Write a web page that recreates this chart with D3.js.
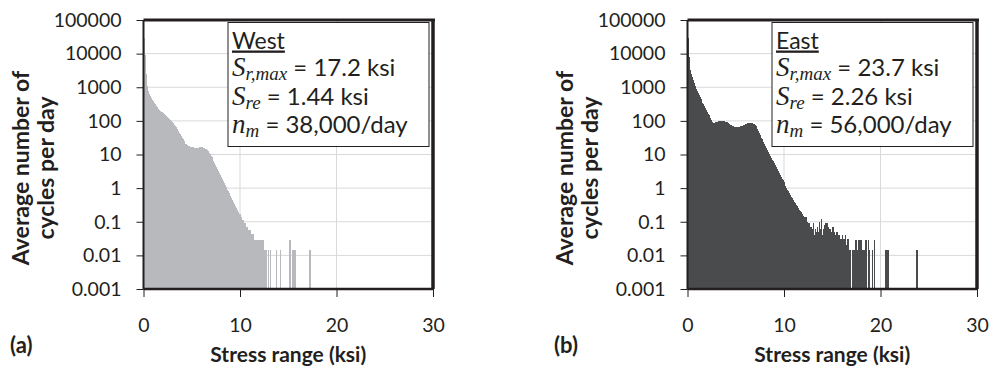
<!DOCTYPE html>
<html>
<head>
<meta charset="utf-8">
<script src="https://d3js.org/d3.v7.min.js"></script>
<style>
  body { margin: 0; background: #fff; }
  svg text { font-family: Lato, "Open Sans", sans-serif; fill: #231f20; }
</style>
</head>
<body>
<div id="chart"></div>
<script>
// histogram bins are 0.1 ksi wide, values are average cycles per day per bin
var binWidth = 0.1;

var westCounts = [
  30000, 9000, 2500, 1100, 800, 650, 550, 480, 420, 380,
  340, 310, 285, 260, 240, 225, 210, 200, 190, 180,
  170, 160, 150, 140, 130, 122, 115, 107, 100, 92,
  85, 78, 71, 64, 57, 51, 45, 40, 35, 31,
  28, 25, 23, 21, 20, 19, 18, 17.5, 17, 16.8,
  16.5, 16.3, 16, 15.8, 15.5, 15.5, 15.7, 16, 16.2, 16.3,
  16.2, 16, 15.6, 15, 14.3, 13.5, 12.5, 11.3, 10.2, 9.2,
  8.2, 7.2, 6.4, 5.6, 4.9, 4.3, 3.8, 3.3, 2.9, 2.5,
  2.2, 1.9, 1.65, 1.4, 1.2, 1.05, 0.9, 0.8, 0.7, 0.6,
  0.52, 0.45, 0.4, 0.34, 0.3, 0.26, 0.23, 0.2, 0.17, 0.17,
  0.14, 0.14, 0.11, 0.11, 0.09, 0.09, 0.07, 0.07, 0.057, 0.057,
  0.057, 0.043, 0.043, 0.043, 0.029, 0.029, 0.014, 0.029, 0.029, 0.029,
  0.014, 0.029, 0.014, 0.029, 0, 0.014, 0.014, 0, 0, 0.014,
  0, 0.014, 0, 0, 0, 0, 0, 0.014, 0, 0,
  0, 0.014, 0, 0, 0, 0, 0, 0, 0, 0,
  0, 0.029, 0, 0, 0.014, 0, 0.014, 0, 0, 0,
  0, 0, 0, 0, 0, 0, 0, 0, 0, 0,
  0, 0, 0.014
];

var eastCounts = [
  30000, 8000, 3200, 2500, 2000, 1600, 1300, 1100, 900, 780,
  680, 590, 510, 450, 400, 350, 310, 275, 245, 215,
  190, 165, 145, 125, 108, 95, 88, 86, 88, 90,
  92, 95, 97, 99, 100, 100, 99, 97, 95, 93,
  90, 87, 84, 81, 78, 75, 72, 70, 68, 67,
  66, 66, 67, 68, 69, 70, 72, 74, 76, 78,
  80, 82, 84, 85, 86, 86, 85, 83, 80, 76,
  70, 63, 56, 49, 43, 37, 32, 28, 24, 21,
  18, 16, 14, 12, 10.5, 9.2, 8, 7, 6.2, 5.5,
  4.8, 4.2, 3.7, 3.2, 2.8, 2.5, 2.2, 1.9, 1.7, 1.5,
  1.3, 1.15, 1.0, 0.9, 0.8, 0.7, 0.62, 0.55, 0.5, 0.44,
  0.4, 0.36, 0.32, 0.29, 0.26, 0.23, 0.21, 0.19, 0.17, 0.15,
  0.14, 0.13, 0.14, 0.1, 0.07, 0.09, 0.06, 0.07, 0.05, 0.06,
  0.09, 0.04, 0.06, 0.05, 0.07, 0.05, 0.1, 0.06, 0.12, 0.04,
  0.06, 0.08, 0.05, 0.09, 0.09, 0.07, 0.04, 0.06, 0.05, 0.04,
  0.07, 0.05, 0.03, 0.04, 0.05, 0.03, 0.04, 0.03, 0.03, 0.03,
  0.04, 0.03, 0.03, 0.04, 0.02, 0.03, 0.03, 0.014, 0.014, 0,
  0.014, 0.014, 0, 0.014, 0.029, 0.014, 0, 0.029, 0.014, 0.029,
  0.014, 0.014, 0, 0.014, 0.029, 0.014, 0, 0.029, 0.014, 0,
  0, 0.014, 0, 0.029, 0, 0, 0, 0, 0, 0,
  0, 0, 0, 0, 0, 0.014, 0, 0.014, 0, 0,
  0, 0, 0, 0, 0, 0, 0, 0, 0, 0,
  0, 0, 0, 0, 0, 0, 0, 0, 0, 0,
  0, 0, 0, 0, 0, 0, 0, 0.014
];

var xTicks = [0, 10, 20, 30];
var yTicks = [0.001, 0.01, 0.1, 1, 10, 100, 1000, 10000, 100000];
var yTickLabels = ["0.001", "0.01", "0.1", "1", "10", "100", "1000", "10000", "100000"];

var westStats = { name: "West", srmax: "17.2", sre: "1.44", nm: "38,000" };
var eastStats = { name: "East", srmax: "23.7", sre: "2.26", nm: "56,000" };

var width = 989, height = 368;
var dark = "#231f20";

var svg = d3.select("#chart").append("svg")
  .attr("width", width)
  .attr("height", height);

// one panel of the figure, shifted by offsetX
function draw_panel(offsetX, counts, fill, stats, tag) {

  var x = d3.scaleLinear().domain([0, 30]).range([143.5 + offsetX, 433 + offsetX]);
  var y = d3.scaleLog().domain([0.001, 100000]).range([289, 20]);

  var g = svg.append("g");

  // gridlines
  g.selectAll(".hgrid").data(yTicks.slice(1, -1)).enter().append("line")
    .attr("x1", x(0)).attr("x2", x(30))
    .attr("y1", function(d){ return y(d); })
    .attr("y2", function(d){ return y(d); })
    .attr("stroke", "#d9d9d9").attr("stroke-width", 1);
  g.selectAll(".vgrid").data(xTicks.slice(1, -1)).enter().append("line")
    .attr("x1", function(d){ return x(d); })
    .attr("x2", function(d){ return x(d); })
    .attr("y1", y(100000)).attr("y2", y(0.001))
    .attr("stroke", "#d9d9d9").attr("stroke-width", 1);

  // histogram bars
  var bins = counts.map(function(v, i){ return { x0: i * binWidth, v: v }; })
    .filter(function(d){ return d.v > 0; });

  g.selectAll(".bar").data(bins).enter().append("rect")
    .attr("x", function(d){ return x(d.x0); })
    .attr("width", function(d){ return x(d.x0 + binWidth) - x(d.x0) + 0.5; })
    .attr("y", function(d){ return y(Math.min(d.v, 100000)); })
    .attr("height", function(d){ return y(0.001) - y(Math.min(d.v, 100000)); })
    .attr("shape-rendering", "crispEdges")
    .attr("fill", fill);

  // axes with outward ticks
  var yAxis = d3.axisLeft(y).tickValues(yTicks)
    .tickFormat(function(d, i){ return yTickLabels[i]; })
    .tickSize(7).tickPadding(15);
  var ya = g.append("g").attr("transform", "translate(" + x(0) + ",0)").call(yAxis);
  ya.select(".domain").remove();
  ya.selectAll("line").attr("stroke", dark);
  ya.selectAll("text").attr("font-size", 19.5).attr("fill", dark);

  var xAxis = d3.axisBottom(x).tickValues(xTicks).tickSize(8).tickPadding(21);
  var xa = g.append("g").attr("transform", "translate(0," + y(0.001) + ")").call(xAxis);
  xa.select(".domain").remove();
  xa.selectAll("line").attr("stroke", dark);
  xa.selectAll("text").attr("font-size", 19.5).attr("fill", dark);

  // plot frame
  g.append("line").attr("x1", x(0)).attr("x2", x(30) + 2)
    .attr("y1", y(100000)).attr("y2", y(100000))
    .attr("stroke", dark).attr("stroke-width", 3);
  g.append("line").attr("x1", x(30)).attr("x2", x(30))
    .attr("y1", y(100000)).attr("y2", y(0.001))
    .attr("stroke", dark).attr("stroke-width", 3.5);
  g.append("line").attr("x1", x(0)).attr("x2", x(30))
    .attr("y1", y(0.001)).attr("y2", y(0.001))
    .attr("stroke", dark).attr("stroke-width", 2.5);
  g.append("line").attr("x1", x(0)).attr("x2", x(0))
    .attr("y1", y(100000)).attr("y2", y(0.001))
    .attr("stroke", dark).attr("stroke-width", 2);

  // stats box
  var bx = x(0) + 84.5, by = 22.5;
  g.append("rect")
    .attr("x", bx).attr("y", by)
    .attr("width", 201).attr("height", 124)
    .attr("fill", "#fff").attr("stroke", dark).attr("stroke-width", 1);

  var tx = bx + 4;
  g.append("text").attr("x", tx).attr("y", by + 26)
    .attr("font-size", 23).attr("text-decoration", "underline")
    .text(stats.name);

  function math_row(yy, sym, sub, rest) {
    var t = g.append("text").attr("x", tx).attr("y", yy).attr("font-size", 24);
    t.append("tspan")
      .style("font-family", "'Liberation Serif', serif")
      .attr("font-style", "italic").attr("font-size", 27)
      .text(sym);
    t.append("tspan")
      .style("font-family", "'Liberation Serif', serif")
      .attr("font-style", "italic").attr("font-size", 19)
      .attr("dy", 4)
      .text(sub);
    t.append("tspan").attr("dy", -4).text(" = " + rest);
  }
  math_row(by + 53, "S", "r,max", stats.srmax + " ksi");
  math_row(by + 82, "S", "re", stats.sre + " ksi");
  math_row(by + 110, "n", "m", stats.nm + "/day");

  // axis titles
  var yt = g.append("text")
    .attr("transform", "translate(" + (offsetX + 21) + ",168) rotate(-90)")
    .attr("text-anchor", "middle").attr("font-size", 23).attr("font-weight", "bold");
  yt.append("tspan").attr("x", 0).attr("dy", 8).text("Average number of");
  yt.append("tspan").attr("x", 0).attr("dy", 25).text("cycles per day");

  g.append("text")
    .attr("x", (x(0) + x(30)) / 2).attr("y", 362)
    .attr("text-anchor", "middle").attr("font-size", 21).attr("font-weight", "bold")
    .text("Stress range (ksi)");

  g.append("text")
    .attr("x", offsetX + 10).attr("y", 353)
    .attr("font-size", 22).attr("font-weight", "bold")
    .text(tag);
}

draw_panel(0, westCounts, "#b8b9bc", westStats, "(a)");
draw_panel(544, eastCounts, "#4a4b4d", eastStats, "(b)");
</script>
</body>
</html>
